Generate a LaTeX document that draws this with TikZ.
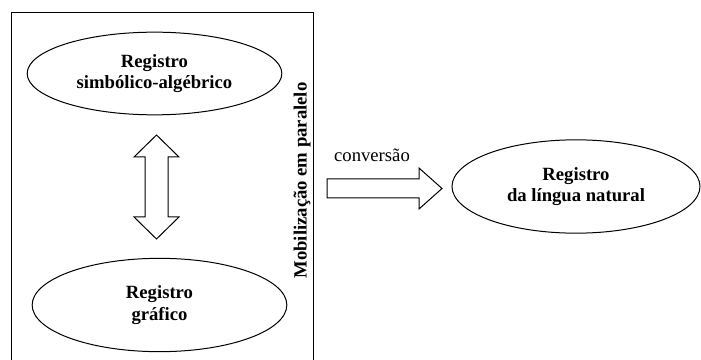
\documentclass[tikz,border=0pt]{standalone}
\usepackage{fontspec}
\setmainfont{Liberation Serif}
\usetikzlibrary{shapes.geometric}

\tikzset{every picture/.style={line width=0.75pt}}
\tikzset{
  registro/.style={draw, ellipse, inner sep=0pt, align=center, font=\fontsize{14}{16}\selectfont\bfseries},
  seta/.style={draw, line join=miter, fill=white}
}

\begin{document}
\begin{tikzpicture}[x=0.75pt,y=0.75pt,yscale=-1,xscale=1]
\useasboundingbox (0,0) rectangle (701,360);

%Shape: Rectangle [id:frame]
\draw (11,13) -- (313,13) -- (313,366) -- (11,366) -- cycle ;

%Shape: Ellipse [id:simbolico]
\node [registro, minimum width=191pt, minimum height=62pt] (simb) at (154.5,73.5) {Registro\\simbólico-algébrico};
%Shape: Ellipse [id:grafico]
\node [registro, minimum width=191pt, minimum height=70pt] (graf) at (159.5,305) {Registro\\gráfico};
%Shape: Ellipse [id:natural]
\node [registro, minimum width=186pt, minimum height=70pt] (nat) at (576,186.5) {Registro\\da língua natural};

%Shape: Up Down Arrow [id:paralelo]
\draw [seta] (156.5,135) -- (179,157) -- (168,157) -- (168,217) -- (179,217) -- (156.5,239) -- (134,217) -- (145,217) -- (145,157) -- (134,157) -- cycle ;
%Shape: Right Arrow [id:conv]
\draw [seta] (327,179) -- (419,179) -- (419,168) -- (442,188.5) -- (419,209) -- (419,198) -- (327,198) -- cycle ;

% Text Node
\node [font=\fontsize{14}{16}\selectfont\bfseries, rotate=90] (mob) at (302,180.5) {Mobilização em paralelo};
% Text Node
\node [font=\fontsize{14}{16}\selectfont] (convlbl) at (372,155) {conversão};

\end{tikzpicture}
\end{document}
